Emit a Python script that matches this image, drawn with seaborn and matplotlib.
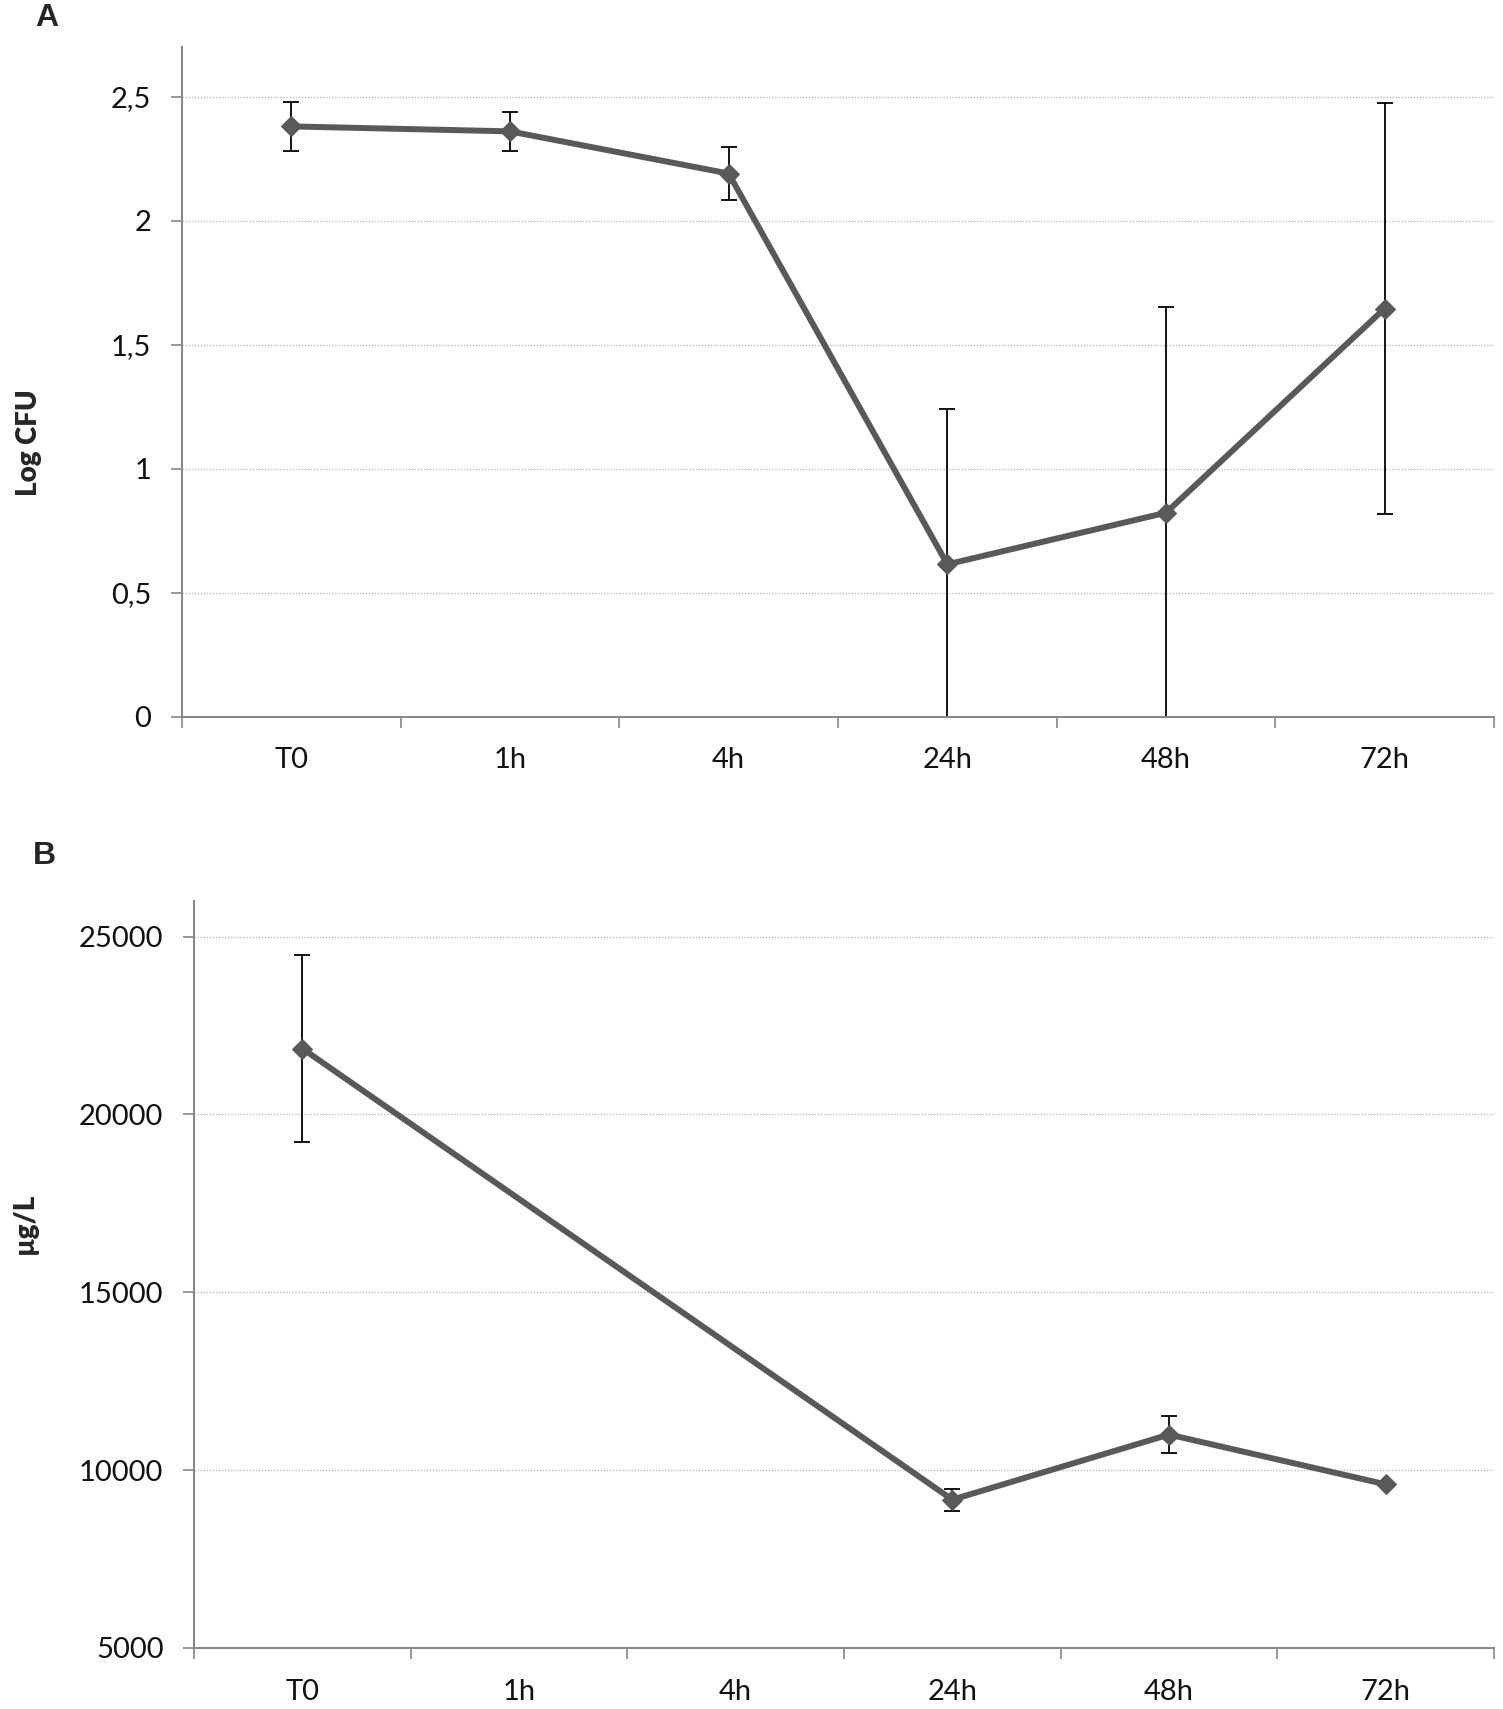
import numpy as np
import pandas as pd
import matplotlib
matplotlib.use("Agg")
import matplotlib.pyplot as plt
import seaborn as sns

# data
times = ["T0", "1h", "4h", "24h", "48h", "72h"]
log_cfu = [2.38, 2.36, 2.19, 0.615, 0.823, 1.646]
log_cfu_err = [0.10, 0.08, 0.105, 0.625, 0.83, 0.83]
conc = [21850, None, None, 9170, 11000, 9600]
conc_err = [2620, None, None, 310, 520, 40]

a_ticks = [0, 0.5, 1, 1.5, 2, 2.5]
a_ticklabels = ["0", "0,5", "1", "1,5", "2", "2,5"]
b_ticks = [5000, 10000, 15000, 20000, 25000]

sns.set_style("white")
plt.rcParams["font.family"] = ["Lato", "DejaVu Sans"]

LINE = "#595959"
AXC = "#868686"

fig = plt.figure(figsize=(15.03, 17.09), dpi=100)
ax_a = fig.add_axes([0.1211, 0.5805, 0.8729, 0.3920])
ax_b = fig.add_axes([0.1291, 0.0357, 0.8649, 0.4371])

dfa = pd.DataFrame({"pos": range(len(times)), "val": log_cfu, "err": log_cfu_err})
dfb = pd.DataFrame({"pos": range(len(times)), "val": conc, "err": conc_err}).dropna()


def draw(ax, df, ylim, ticks, ticklabels, ylabel, label_xy):
    ax.errorbar(df["pos"], df["val"], yerr=df["err"], fmt="none",
                ecolor="black", elinewidth=1.3, capsize=5.6, capthick=1.3, zorder=2)
    sns.lineplot(data=df, x="pos", y="val", ax=ax, color=LINE, lw=4.3,
                 marker="D", markersize=10, markeredgecolor=LINE, sort=False, zorder=3)
    ax.set_xlim(-0.5, len(times) - 0.5)
    ax.set_ylim(*ylim)
    ax.set_yticks(ticks)
    ax.set_yticklabels(ticklabels)
    ax.yaxis.grid(True, color="#BFBFBF", linestyle=(0, (1, 1.2)), lw=1.0)
    ax.xaxis.grid(False)
    ax.set_axisbelow(True)

    ax.set_xticks(np.arange(-0.5, len(times), 1.0))
    ax.set_xticklabels([])
    ax.set_xticks(range(len(times)), minor=True)
    ax.set_xticklabels(times, minor=True)
    ax.tick_params(axis="x", which="major", direction="out", length=8, width=1.2, color=AXC, bottom=True)
    ax.tick_params(axis="x", which="minor", length=0, pad=22, labelsize=21, labelcolor="#111111")
    ax.tick_params(axis="y", direction="out", length=8, width=1.2, color=AXC,
                   left=True, pad=14, labelsize=21, labelcolor="#111111")

    for s in ["top", "right"]:
        ax.spines[s].set_visible(False)
    for s in ["left", "bottom"]:
        ax.spines[s].set_color(AXC)
        ax.spines[s].set_linewidth(1.4)

    ax.set_xlabel("")
    ax.set_ylabel(ylabel, fontsize=20, fontweight="heavy")
    ax.yaxis.set_label_coords(*label_xy)


draw(ax_a, dfa, (0, 2.7), a_ticks, a_ticklabels, "Log CFU", (-0.107, 0.41))
draw(ax_b, dfb, (5000, 26000), b_ticks, [str(t) for t in b_ticks], "µg/L", (-0.120, 0.568))

fig.text(47 / 1503, 1 - 18 / 1709, "A", fontsize=23, fontweight="bold",
         family=["Liberation Sans", "DejaVu Sans"], ha="center", va="center")
fig.text(44 / 1503, 1 - 856 / 1709, "B", fontsize=23, fontweight="bold",
         family=["Liberation Sans", "DejaVu Sans"], ha="center", va="center")

fig.savefig("out.png", dpi=100)
